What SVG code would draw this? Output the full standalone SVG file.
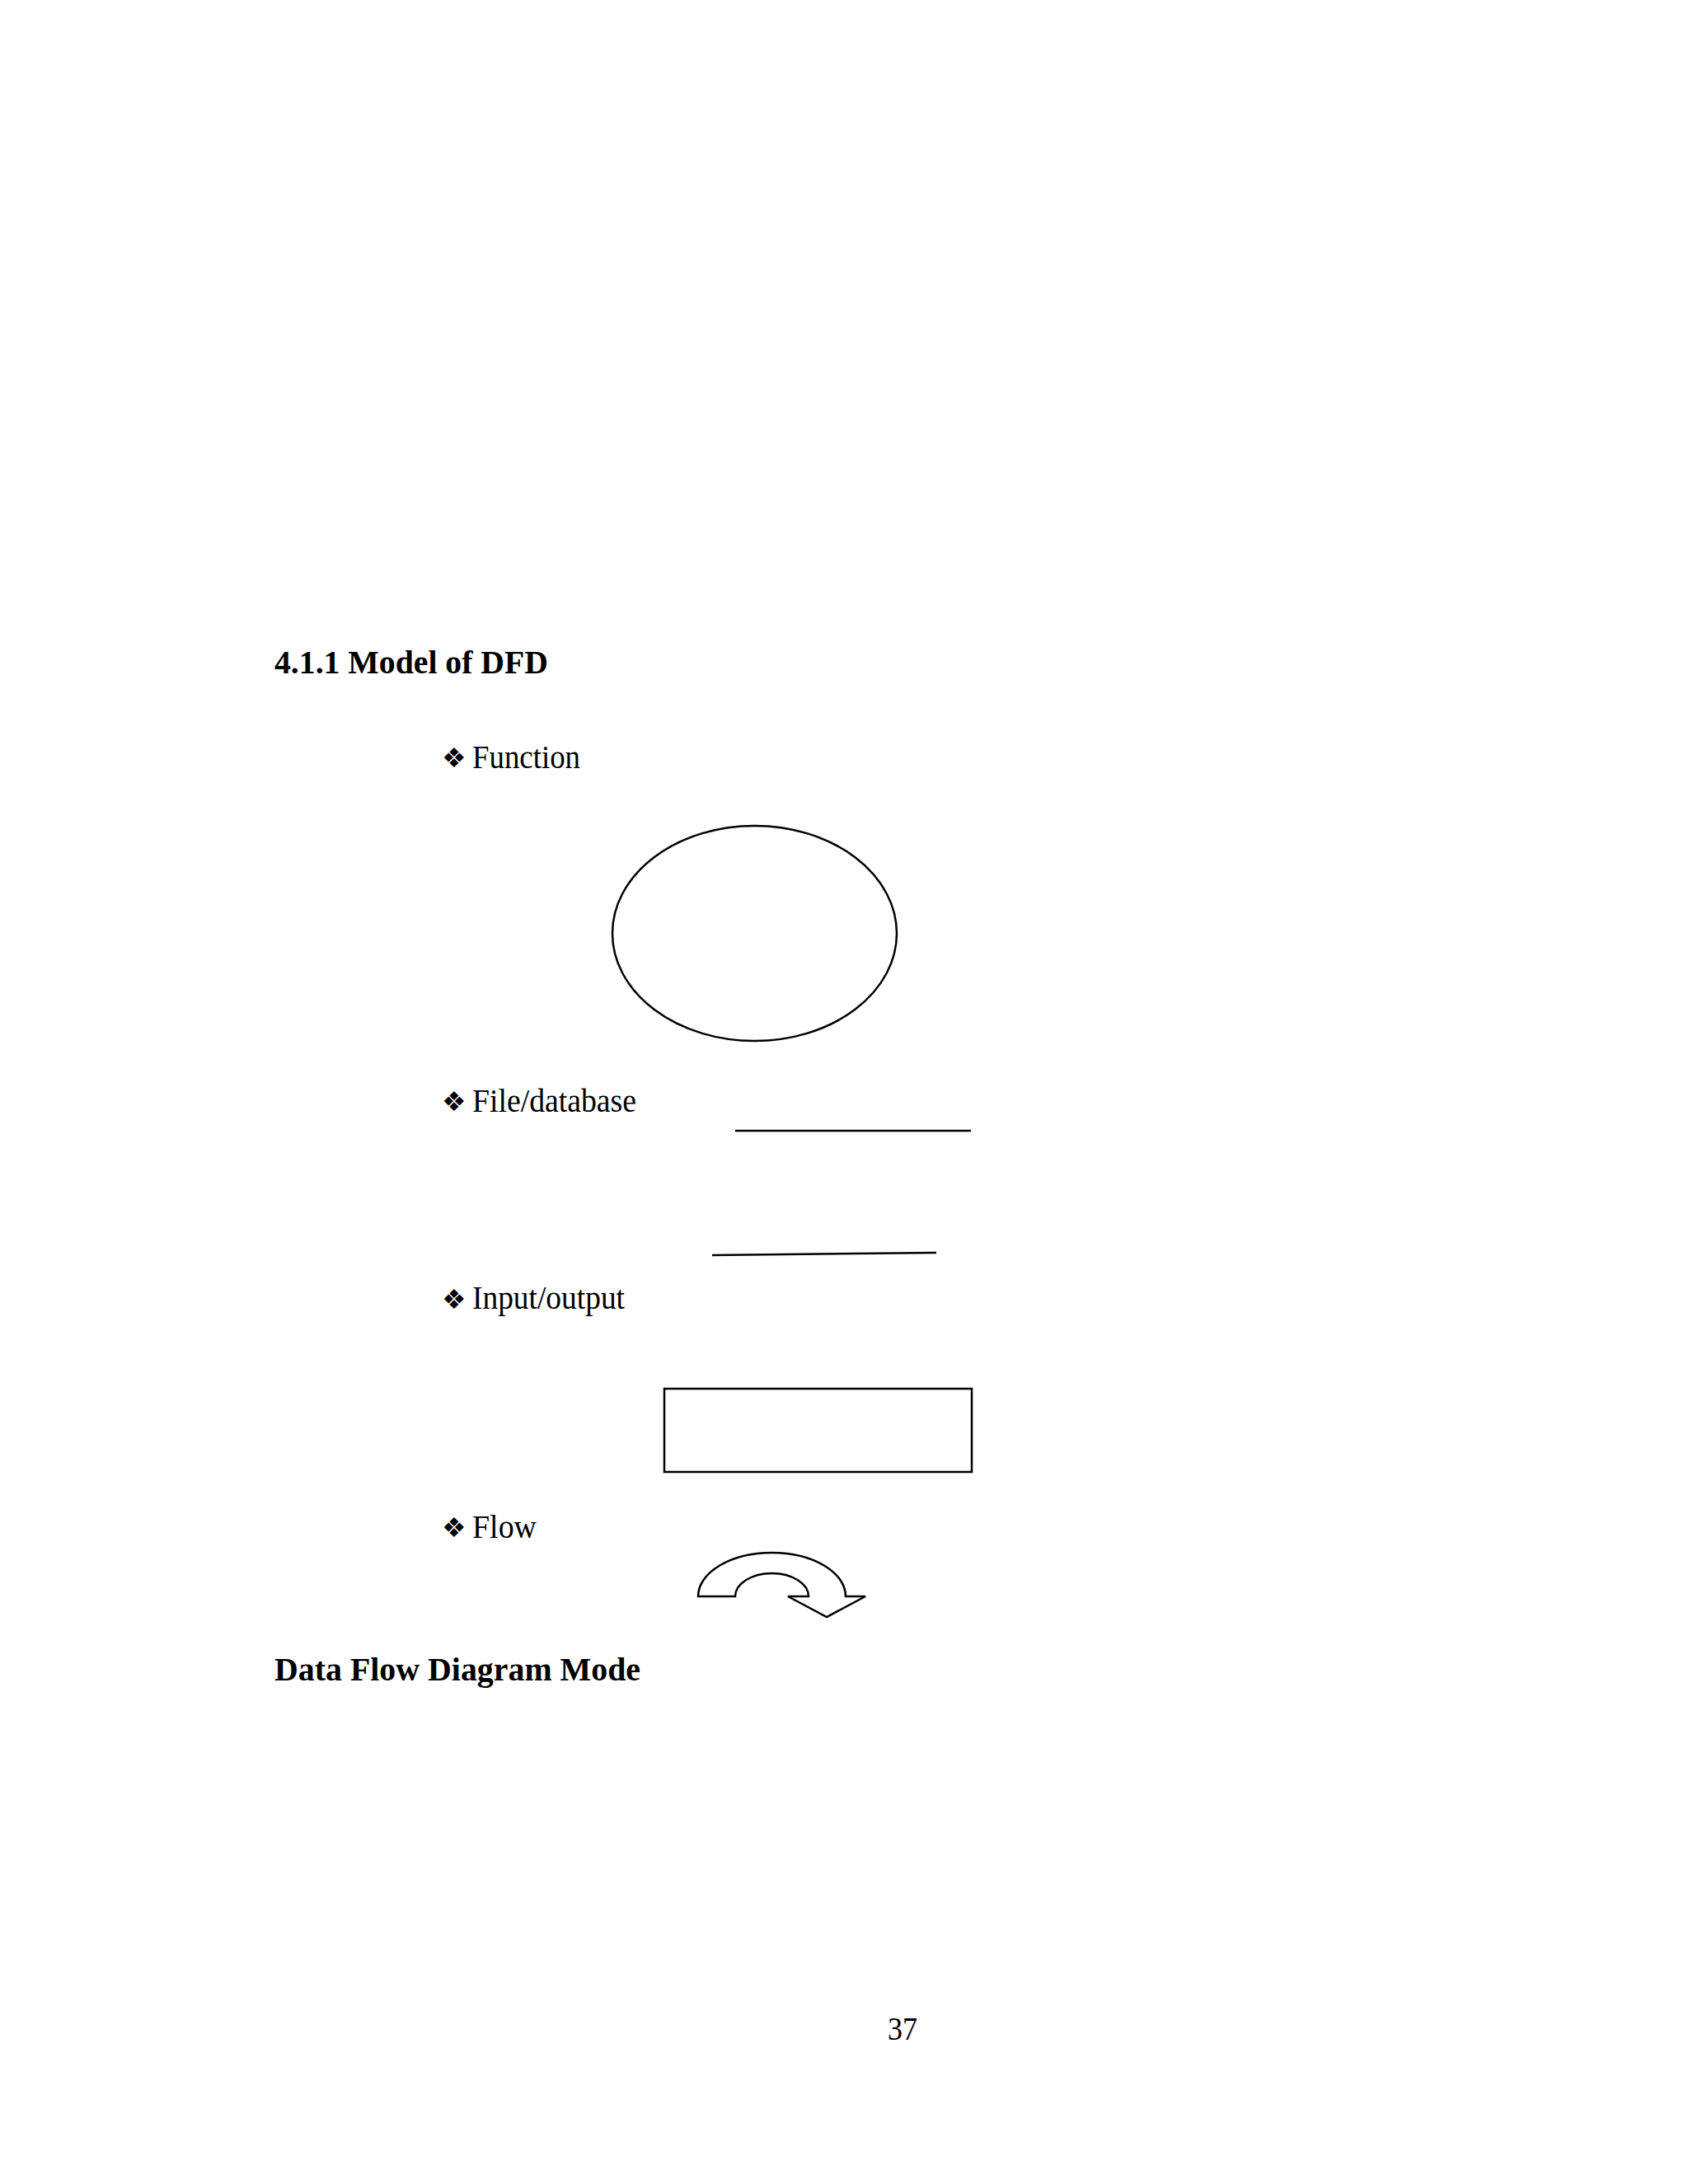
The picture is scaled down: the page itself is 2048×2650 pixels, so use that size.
<svg xmlns="http://www.w3.org/2000/svg" width="2048" height="2650" viewBox="0 0 2048 2650">
<style>
.h{font-family:"Liberation Serif","Times New Roman",serif;font-weight:bold;font-size:40px;fill:#000}
.t{font-family:"Liberation Serif","Times New Roman",serif;font-size:40px;fill:#000}
.b{font-family:"DejaVu Sans",sans-serif;font-size:33px;fill:#000}
.s{fill:none;stroke:#000;stroke-width:2.5}
</style>
<rect width="2048" height="2650" fill="#fff"/>
<text class="h" x="333" y="817" textLength="332" lengthAdjust="spacingAndGlyphs">4.1.1 Model of DFD</text>
<g id="function">
<text class="b" x="536" y="931">❖</text>
<text class="t" x="573" y="932" textLength="131" lengthAdjust="spacingAndGlyphs">Function</text>
<ellipse class="s" cx="915.5" cy="1132.5" rx="172.5" ry="130.5"/>
</g>
<g id="file">
<text class="b" x="536" y="1348">❖</text>
<text class="t" x="573" y="1349" textLength="199" lengthAdjust="spacingAndGlyphs">File/database</text>
<line class="s" x1="892" y1="1372" x2="1178" y2="1372"/>
<line class="s" x1="864" y1="1523" x2="1136" y2="1520"/>
</g>
<g id="io">
<text class="b" x="536" y="1588">❖</text>
<text class="t" x="573" y="1588" textLength="185" lengthAdjust="spacingAndGlyphs">Input/output</text>
<rect class="s" x="806" y="1685" width="373" height="101"/>
</g>
<g id="flow">
<text class="b" x="536" y="1865">❖</text>
<text class="t" x="573" y="1866" textLength="78" lengthAdjust="spacingAndGlyphs">Flow</text>
<path class="s" d="M847,1937 A89.5,53 0 0 1 1026,1937 L1050,1937 L1003,1962 L956,1937 L981,1937 A44.5,28 0 0 0 892,1937 Z"/>
</g>
<text class="h" x="333" y="2039" textLength="444" lengthAdjust="spacingAndGlyphs">Data Flow Diagram Mode</text>
<text class="t" x="1077" y="2475" font-size="38" textLength="36" lengthAdjust="spacingAndGlyphs">37</text>
</svg>
